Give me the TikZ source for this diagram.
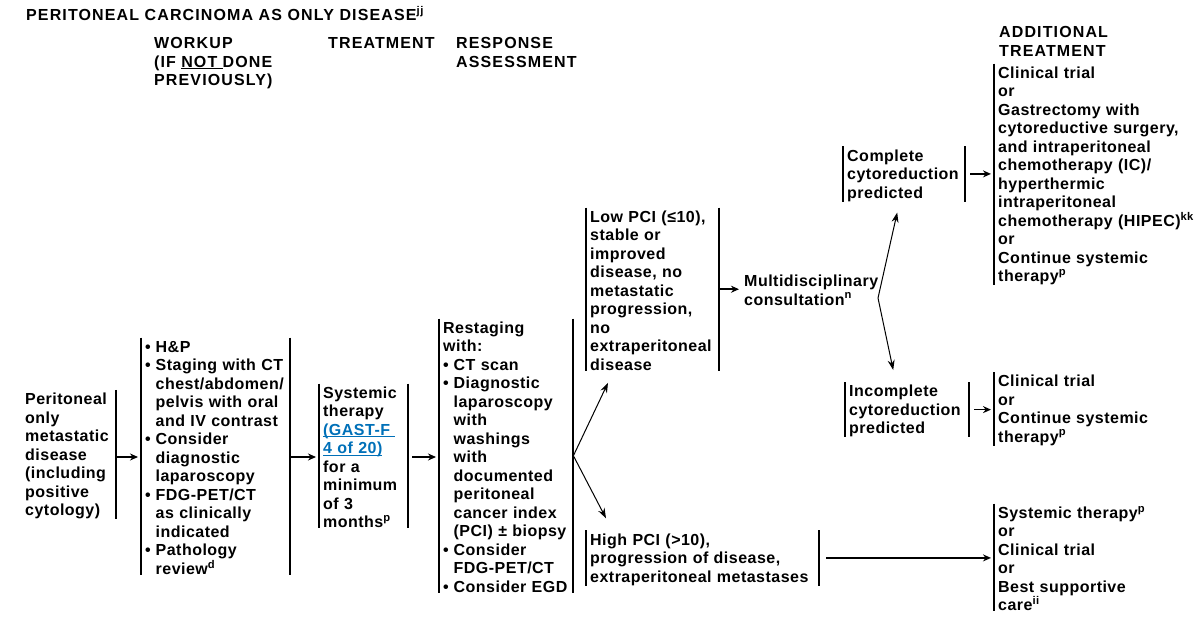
\documentclass[tikz,border=0pt]{standalone}
\usepackage{fontspec}
\setmainfont{Liberation Sans}[LetterSpace=3]
\newfontfamily\headfamily{Liberation Sans}[LetterSpace=7]
\usepackage{xcolor}
\usetikzlibrary{arrows.meta}

\definecolor{linkblue}{RGB}{0,112,184}
\newcommand{\chartfont}{\fontsize{16pt}{18.5pt}\selectfont\bfseries}
\newcommand{\headfont}{\headfamily\fontsize{16pt}{18.5pt}\selectfont\bfseries}
\newcommand{\bitem}{\makebox[10.5pt][l]{•}}
\newcommand{\bcont}{\hspace*{10.5pt}}
\newcommand{\undl}[1]{\leavevmode\setbox0=\hbox{#1}\rlap{\rule[-2pt]{\wd0}{1pt}}\box0}

\tikzset{
    txt/.style={anchor=base west, align=left, inner xsep=4pt, inner ysep=0pt, text height=14.5pt, font=\chartfont},
    head/.style={txt, font=\headfont},
    bar/.style={line width=2pt},
    arr/.style={-{Stealth[length=8pt,width=7pt]}, line width=1.5pt, shorten >=3pt},
    diag/.style={-{Stealth[length=10pt,width=7pt]}, line width=1pt}
}

\begin{document}
\begin{tikzpicture}[x=1pt, y=-1pt]

    \useasboundingbox (0,0) rectangle (1201,619);

    % headings
    \node[head] (title) at (22,20.7) {PERITONEAL CARCINOMA AS ONLY DISEASE\textsuperscript{jj}};
    \node[head, text width=150] (hwork) at (150,48.5) {WORKUP\\(IF \undl{NOT\ }DONE\\PREVIOUSLY)};
    \node[head, text width=120] (htreat) at (324,48.5) {TREATMENT};
    \node[head, text width=150] (hresp) at (452,48.5) {RESPONSE\\ASSESSMENT};
    \node[head, text width=200] (hadd) at (995,37.7) {ADDITIONAL\\TREATMENT};

    % boxes
    \node[txt, text width=87] (peri) at (21,404.5) {Peritoneal\\only\\metastatic\\disease\\(including\\positive\\cytology)};
    \node[txt, text width=141] (workup) at (141,352.4) {\bitem H\&P\\
        \bitem Staging with CT\\
        \bcont chest/abdomen/\\
        \bcont pelvis with oral\\
        \bcont and IV contrast\\
        \bitem Consider\\
        \bcont diagnostic\\
        \bcont laparoscopy\\
        \bitem FDG-PET/CT\\
        \bcont as clinically\\
        \bcont indicated\\
        \bitem Pathology\\
        \bcont review\textsuperscript{d}};
    \node[txt, text width=81] (systemic) at (319,398.4) {Systemic\\therapy\\\textcolor{linkblue}{\undl{(GAST-F\ }}\\\textcolor{linkblue}{\undl{4 of 20)}}\\for a\\minimum\\of 3\\months\textsuperscript{p}};
    \node[txt, text width=126] (restage) at (439,333.4) {Restaging\\
        with:\\
        \bitem CT scan\\
        \bitem Diagnostic\\
        \bcont laparoscopy\\
        \bcont with\\
        \bcont washings\\
        \bcont with\\
        \bcont documented\\
        \bcont peritoneal\\
        \bcont cancer index\\
        \bcont (PCI) ± biopsy\\
        \bitem Consider\\
        \bcont FDG-PET/CT\\
        \bitem Consider EGD};
    \node[txt, text width=125] (lowpci) at (586,222.4) {Low PCI (≤10),\\stable or\\improved\\disease, no\\metastatic\\progression,\\no\\extraperitoneal\\disease};
    \node[txt, text width=225] (highpci) at (586,545) {High PCI (>10),\\progression of disease,\\extraperitoneal metastases};
    \node[txt, text width=140] (consult) at (740,286.7) {Multidisciplinary\\consultation\textsuperscript{n}};
    \node[txt, text width=114] (complete) at (843,161) {Complete\\cytoreduction\\predicted};
    \node[txt, text width=116] (incomplete) at (845,396.7) {Incomplete\\cytoreduction\\predicted};
    \node[txt, text width=205] (addtop) at (994,78.4) {Clinical trial\\or\\Gastrectomy with\\cytoreductive surgery,\\and intraperitoneal\\chemotherapy (IC)/\\hyperthermic\\intraperitoneal\\chemotherapy (HIPEC)\textsuperscript{kk}\\or\\Continue systemic\\therapy\textsuperscript{p}};
    \node[txt, text width=205] (addmid) at (994,386.7) {Clinical trial\\or\\Continue systemic\\therapy\textsuperscript{p}};
    \node[txt, text width=205] (addbot) at (994,518.4) {Systemic therapy\textsuperscript{p}\\or\\Clinical trial\\or\\Best supportive\\care\textsuperscript{ii}};

    % bars
    \draw[bar] (peri.north east) -- (peri.south east);
    \draw[bar] (workup.north west) -- (workup.south west);
    \draw[bar] (workup.north east) -- (workup.south east);
    \draw[bar] (systemic.north west) -- (systemic.south west);
    \draw[bar] (systemic.north east) -- (systemic.south east);
    \draw[bar] (restage.north west) -- (restage.south west);
    \draw[bar] (restage.north east) -- (restage.south east);
    \draw[bar] (lowpci.north west) -- (lowpci.south west);
    \draw[bar] (lowpci.north east) -- (lowpci.south east);
    \draw[bar] (highpci.north west) -- (highpci.south west);
    \draw[bar] (highpci.north east) -- (highpci.south east);
    \draw[bar] (complete.north west) -- (complete.south west);
    \draw[bar] (complete.north east) -- (complete.south east);
    \draw[bar] (incomplete.north west) -- (incomplete.south west);
    \draw[bar] (incomplete.north east) -- (incomplete.south east);
    \draw[bar] (addtop.north west) -- (addtop.south west);
    \draw[bar] (addmid.north west) -- (addmid.south west);
    \draw[bar] (addbot.north west) -- (addbot.south west);

    % arrows
    \coordinate (row) at (0,457);
    \coordinate (fork) at (878,298);
    \draw[arr] (peri.east |- row) -- (workup.west |- row);
    \draw[arr] (workup.east |- row) -- (systemic.west |- row);
    \draw[arr, shorten <=4pt] (systemic.east |- row) -- (restage.west |- row);
    \draw[diag] (restage.east) -- ([shift={(22,12)}]lowpci.south west);
    \draw[diag] (restage.east) -- ([shift={(20,-12)}]highpci.north west);
    \draw[arr, shorten >=1pt] (lowpci.east) -- (consult.west |- lowpci.east);
    \draw[diag] (fork) -- ([shift={(-7,11)}]complete.south);
    \draw[diag] (fork) -- ([shift={(-14,-12)}]incomplete.north);
    \draw[arr, shorten <=5pt] (complete.east) -- (addtop.west |- complete.east);
    \draw[arr, shorten <=5pt] (incomplete.east) -- (addmid.west |- incomplete.east);
    \draw[arr, shorten <=7pt] (highpci.east) -- (addbot.west |- highpci.east);

\end{tikzpicture}
\end{document}
